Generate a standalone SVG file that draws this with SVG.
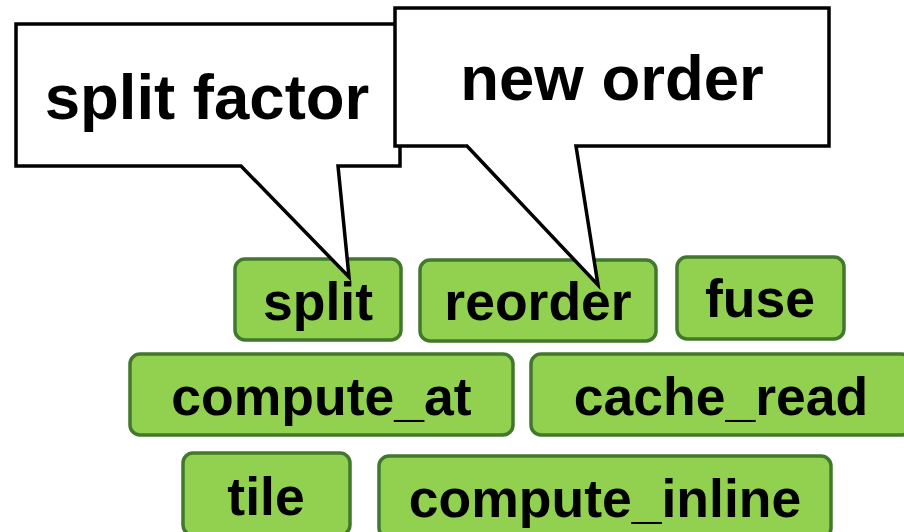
<svg xmlns="http://www.w3.org/2000/svg" width="904" height="532" viewBox="0 0 904 532">
  <style>
    .prim rect { fill: #92d050; stroke: #41782c; stroke-width: 3.5; }
    .prim text { font-family: "Liberation Sans", Arial, sans-serif; font-weight: bold; font-size: 53.5px; fill: #000; text-anchor: middle; }
    .callout path { fill: #fff; stroke: #000; stroke-width: 3.5; stroke-linejoin: miter; }
    .callout text { font-family: "Liberation Sans", Arial, sans-serif; font-weight: bold; font-size: 63.5px; fill: #000; text-anchor: middle; }
  </style>
  <rect width="904" height="532" fill="#fff"/>

  <!-- schedule primitives -->
  <g id="split" class="prim">
    <rect x="235" y="259" width="166" height="81" rx="10"/>
    <text x="318" y="320">split</text>
  </g>
  <g id="reorder" class="prim">
    <rect x="420" y="260" width="236" height="81" rx="10"/>
    <text x="538" y="320">reorder</text>
  </g>
  <g id="fuse" class="prim">
    <rect x="677" y="257" width="167" height="82" rx="10"/>
    <text x="760" y="317">fuse</text>
  </g>
  <g id="compute_at" class="prim">
    <rect x="130" y="354" width="383" height="81" rx="10"/>
    <text x="321.5" y="415">compute_at</text>
  </g>
  <g id="cache_read" class="prim">
    <rect x="531" y="354" width="380" height="81" rx="10"/>
    <text x="721" y="415">cache_read</text>
  </g>
  <g id="tile" class="prim">
    <rect x="183" y="453" width="167" height="82" rx="10"/>
    <text x="266" y="515">tile</text>
  </g>
  <g id="compute_inline" class="prim">
    <rect x="379" y="456" width="452" height="82" rx="10"/>
    <text x="605" y="517">compute_inline</text>
  </g>

  <!-- callouts pointing at their primitives -->
  <g id="connectors">
    <g id="split_factor" class="callout">
      <path d="M16,24 H400 V166 H338 L349,277 L241,166 H16 Z"/>
      <text x="207" y="119">split factor</text>
    </g>
    <g id="new_order" class="callout">
      <path d="M395,8 H829 V146 H576 L598,285 L467,146 H395 Z"/>
      <text x="612" y="100">new order</text>
    </g>
  </g>
</svg>
